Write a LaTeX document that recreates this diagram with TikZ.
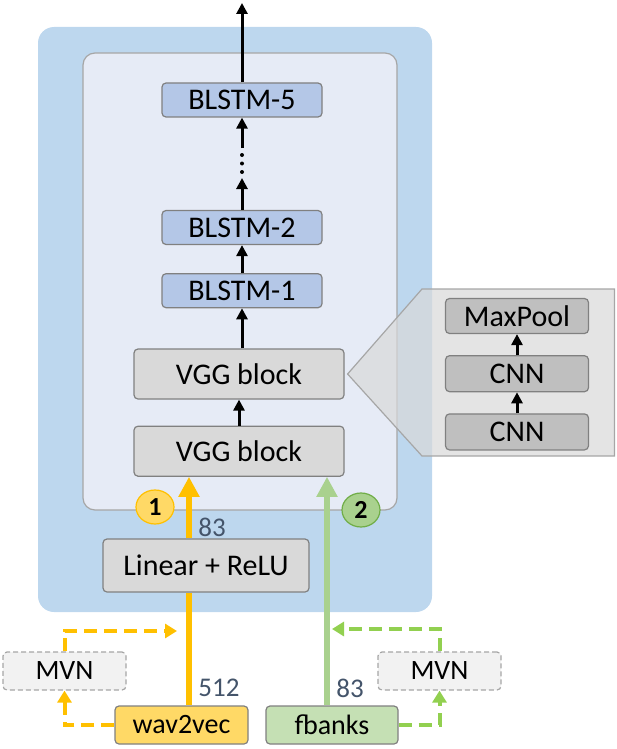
\documentclass[tikz,border=0pt]{standalone}
\usepackage{fontspec}
\setmainfont{Carlito}
\usepackage{tikz}
\usetikzlibrary{arrows.meta,shapes.geometric,positioning}
\definecolor{encblue}{RGB}{189,215,238}
\definecolor{enclight}{RGB}{230,235,246}
\definecolor{encgray}{RGB}{166,166,166}
\definecolor{boxgray}{RGB}{128,128,128}
\definecolor{blstmblue}{RGB}{180,199,231}
\definecolor{vgggray}{RGB}{217,217,217}
\definecolor{cnngray}{RGB}{191,191,191}
\definecolor{mvngray}{RGB}{242,242,242}
\definecolor{wavyellow}{RGB}{255,192,0}
\definecolor{wavlight}{RGB}{255,217,102}
\definecolor{fbgreen}{RGB}{169,209,142}
\definecolor{fblight}{RGB}{197,224,180}
\definecolor{fbdash}{RGB}{146,208,80}
\definecolor{fbdark}{RGB}{112,173,71}
\definecolor{dimtext}{RGB}{68,84,106}
\tikzstyle{layer} = [rectangle, rounded corners=4pt, draw=boxgray, line width=1.2pt, text centered, inner sep=0pt]
\tikzstyle{blstm} = [layer, fill=blstmblue, minimum width=160pt, minimum height=34pt]
\tikzstyle{vgg} = [layer, fill=vgggray, minimum width=210pt, minimum height=50pt]
\tikzstyle{cnn} = [layer, fill=cnngray, minimum width=143pt, minimum height=36pt]
\tikzstyle{feat} = [layer, minimum width=132pt, minimum height=38pt, font=\fontsize{28}{34}\selectfont]
\tikzstyle{mvn} = [layer, fill=mvngray, draw=encgray, dash pattern=on 5pt off 3pt, minimum width=123pt, minimum height=38pt, font=\fontsize{28}{34}\selectfont]
\tikzstyle{badge} = [ellipse, minimum width=38pt, minimum height=34pt, line width=1.2pt, inner sep=0pt, font=\bfseries\fontsize{26}{30}\selectfont]
\tikzstyle{dim} = [text=dimtext, font=\fontsize{27}{32}\selectfont]
\tikzstyle{arrow} = [line width=3pt, -{Triangle[width=11pt,length=11pt]}]
\tikzstyle{feed} = [line width=6pt, -{Triangle[width=20pt,length=20pt]}]
\tikzstyle{norm} = [line width=4pt, dash pattern=on 13pt off 7pt, -{Triangle[width=14pt,length=12pt]}]

\begin{document}
\begin{tikzpicture}[x=1pt, y=-1pt, font=\fontsize{30}{36}\selectfont]
\useasboundingbox (0,0) rectangle (616,749);
% Encoder panels
\fill[encblue, rounded corners=16pt] (38,27) rectangle (432,612);
\draw[fill=enclight, draw=encgray, line width=1.2pt, rounded corners=12pt] (83,53) rectangle (397,510);

% BLSTM stack
\node (blstm5) [blstm] at (242,100) {BLSTM-5};
\node (blstm2) [blstm] at (242,227.5) {BLSTM-2};
\node (blstm1) [blstm, below=28pt of blstm2] {BLSTM-1};

% VGG blocks
\node (vgg2) [vgg] at (239,374) {VGG block};
\node (vgg1) [vgg, below=26pt of vgg2] {VGG block};
\node (lin) [vgg, minimum width=206pt, minimum height=53pt] at (206,565.5) {Linear + ReLU};

% Zoom into VGG block
\draw[fill=vgggray, fill opacity=0.7, draw=encgray, line width=1.2pt] ([xshift=3pt]vgg2.east) -- (422,289) -- (614.5,289) -- (614.5,456) -- (422,456) -- cycle;
\node (pool) [cnn, minimum height=35pt] at (517,316) {MaxPool};
\node (cnn2) [cnn, below=21pt of pool] {CNN};
\node (cnn1) [cnn, below=21pt of cnn2] {CNN};
\draw[arrow] (cnn1.north) -- (cnn2.south);
\draw[arrow] (cnn2.north) -- (pool.south);

% Inputs
\node (wav) [feat, fill=wavlight, minimum width=133pt] at (181.5,725) {wav2vec};
\node (fbk) [feat, fill=fblight] at (332,725) {fbanks};
\node (mvnL) [mvn] at (64.5,671) {MVN};
\node (mvnR) [mvn] at (439.5,671) {MVN};

% Arrows through the stack
\coordinate (out) at (242,3);
\coordinate (dotlo) at (242,178);
\coordinate (dothi) at (242,148);
\draw[arrow] (blstm5.north) -- (out);
\draw[arrow] (dothi) -- (blstm5.south);
\foreach \y in {155,163.5,172}
  \fill (242,\y) circle (2pt);
\draw[arrow] (blstm2.north) -- (dotlo);
\draw[arrow] (blstm1.north) -- (blstm2.south);
\draw[arrow] (vgg2.north -| blstm1.south) -- (blstm1.south);
\draw[arrow] (vgg1.north) -- (vgg2.south);

% Feature paths
\coordinate (yx) at (189,0);
\coordinate (gx) at (327,0);
\draw[feed, -, wavyellow] (wav.north -| yx) -- (lin.south -| yx);
\draw[feed, wavyellow] (lin.north -| yx) -- (vgg1.south -| yx);
\draw[feed, fbgreen] (fbk.north -| gx) -- (vgg1.south -| gx);

% Normalisation paths
\coordinate (ytip) at (177,631);
\coordinate (gtip) at (332,629);
\draw[norm, wavyellow] (wav.west) -| (mvnL.south);
\draw[norm, wavyellow] (mvnL.north) |- (ytip);
\draw[norm, fbdash] (fbk.east) -| (mvnR.south);
\draw[norm, fbdash] (mvnR.north) |- (gtip);

% Labels
\node (one) [badge, fill=wavlight, draw=wavyellow] at (155,507) {1};
\node (two) [badge, fill=fbgreen, draw=fbdark] at (361,510) {2};
\node (d83a) [dim] at (212,527) {83};
\node (d512) [dim] at (219,688) {512};
\node (d83b) [dim] at (350,688) {83};
\end{tikzpicture}
\end{document}
